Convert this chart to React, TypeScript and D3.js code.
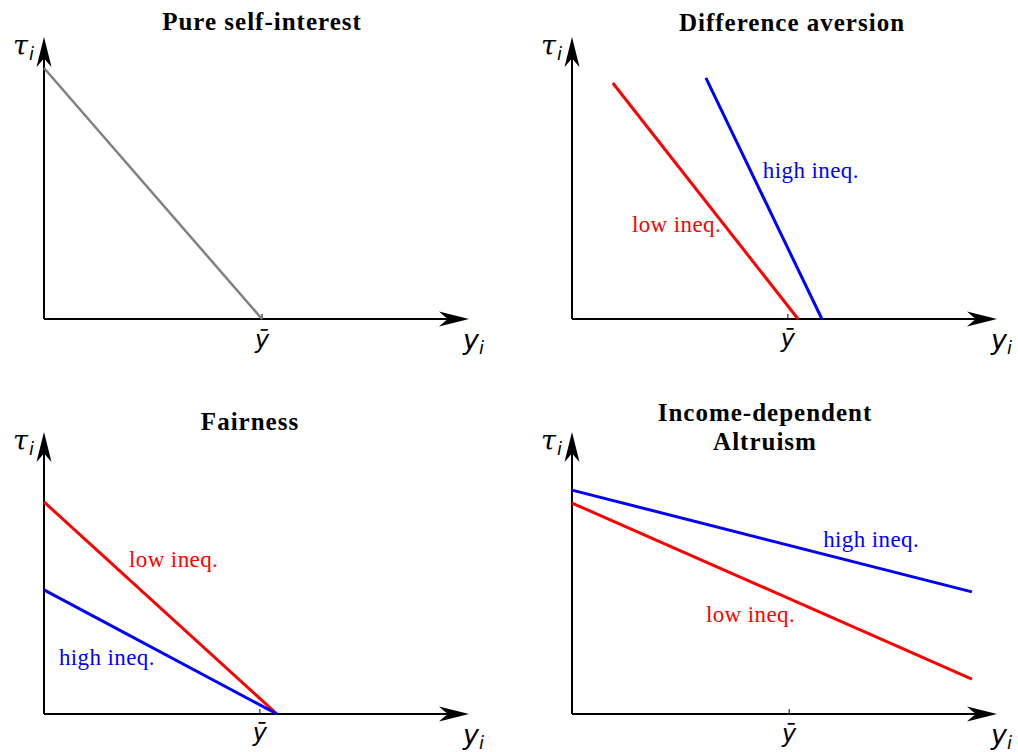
import React from 'react';
import * as d3 from 'd3';

// Panel titles (one entry per line)
const panelTitles: string[][] = [
  ['Pure self-interest'],
  ['Difference aversion'],
  ['Fairness'],
  ['Income-dependent', 'Altruism'],
];

// Position of mean income ȳ on the x axis (0..1)
const yBarValues = [0.513, 0.508, 0.508, 0.511];

// Lines as [y_i, tau_i] endpoints, in axis units (0..1)
const selfInterestLines: ([number, number][] | null)[] = [
  [[0, 0.89], [0.513, 0]],
  null,
  null,
  null,
];
const lowIneqLines: ([number, number][] | null)[] = [
  null,
  [[0.096, 0.837], [0.532, 0]],
  [[0, 0.752], [0.548, 0]],
  [[0, 0.748], [0.941, 0.124]],
];
const highIneqLines: ([number, number][] | null)[] = [
  null,
  [[0.315, 0.855], [0.588, 0]],
  [[0, 0.44], [0.548, 0]],
  [[0, 0.794], [0.941, 0.433]],
];

// Label anchors for the series, in axis units
const lowIneqLabelAt: ([number, number] | null)[] = [null, [0.141, 0.309], [0.2, 0.521], [0.315, 0.326]];
const highIneqLabelAt: ([number, number] | null)[] = [null, [0.449, 0.5], [0.035, 0.174], [0.591, 0.592]];

// layout
const W = 1018;
const H = 752;
const origins: [number, number][] = [[44, 319], [572, 319], [44, 714], [572, 714]];
const titlePos: [number, number][] = [[262, 30], [792, 31], [250, 430], [765, 421]];
const yBarDy = [29, 28, 27, 28];
const axisW = 425;
const axisH = 282;

const serif = '"Liberation Serif", "DejaVu Serif", serif';
const sans = '"DejaVu Sans", sans-serif';

const arrowPath = 'M0,0 L-30,-7.5 Q-24,-2 -21,0 Q-24,2 -30,7.5 Z';

const Panel: React.FC<{ i: number }> = ({ i }) => {
  const [ox, oy] = origins[i];
  const x = d3.scaleLinear().domain([0, 1]).range([ox, ox + axisW]);
  const y = d3.scaleLinear().domain([0, 1]).range([oy, oy - axisH]);
  const line = d3.line<[number, number]>().x(d => x(d[0])).y(d => y(d[1]));

  const series: { pts: [number, number][] | null; color: string; w: number }[] = [
    { pts: selfInterestLines[i], color: '#808080', w: 2.5 },
    { pts: lowIneqLines[i], color: '#ff0000', w: 3 },
    { pts: highIneqLines[i], color: '#0000ff', w: 3 },
  ];

  const tipX = x(1);
  const tipY = y(1);
  const yb = x(yBarValues[i]);

  return (
    <g>
      {/* title */}
      {panelTitles[i].map((t, k) => (
        <text key={k} x={titlePos[i][0]} y={titlePos[i][1] + k * 29} textAnchor="middle"
          fontFamily={serif} fontWeight="bold" fontSize={25} letterSpacing={1} fill="#000">{t}</text>
      ))}

      {/* axes */}
      <line x1={ox} y1={oy} x2={tipX - 21} y2={oy} stroke="#000" strokeWidth={2} />
      <line x1={ox} y1={oy} x2={ox} y2={tipY + 21} stroke="#000" strokeWidth={2} />
      <path d={arrowPath} transform={`translate(${tipX},${oy})`} fill="#000" />
      <path d={arrowPath} transform={`translate(${ox},${tipY}) rotate(-90)`} fill="#000" />

      {/* ȳ tick */}
      <line x1={yb} x2={yb} y1={oy} y2={oy - 5} stroke="#000" strokeWidth={1} />
      <text x={yb} y={oy + yBarDy[i]} textAnchor="middle" fontFamily={sans} fontStyle="italic" fontSize={24}>ȳ</text>

      {/* axis labels */}
      <text x={tipX - 6} y={oy + 30} fontFamily={sans} fontStyle="italic" fontSize={27}>
        y<tspan fontSize={18} dy={5}>i</tspan>
      </text>
      <text x={ox - 31} y={tipY + 18} fontFamily='"DejaVu Serif", serif' fontStyle="italic" fontSize={27}>
        τ<tspan fontFamily={sans} fontSize={18} dx={1} dy={5}>i</tspan>
      </text>

      {/* series */}
      {series.map((s, k) => s.pts ? (
        <path key={k} d={line(s.pts) || ''} fill="none" stroke={s.color} strokeWidth={s.w} />
      ) : null)}

      {/* labels */}
      {lowIneqLabelAt[i] && (
        <text x={x(lowIneqLabelAt[i]![0])} y={y(lowIneqLabelAt[i]![1])} fontFamily={serif}
          fontSize={23} letterSpacing={0.4} fill="#ff0000">low ineq.</text>
      )}
      {highIneqLabelAt[i] && (
        <text x={x(highIneqLabelAt[i]![0])} y={y(highIneqLabelAt[i]![1])} fontFamily={serif}
          fontSize={23} letterSpacing={0.4} fill="#0000ff">high ineq.</text>
      )}
    </g>
  );
};

export default function App() {
  return (
    <svg width={W} height={H} style={{ position: 'absolute', left: 0, top: 0, background: '#fff' }}>
      <rect width={W} height={H} fill="#fff" />
      {[0, 1, 2, 3].map(i => <Panel key={i} i={i} />)}
    </svg>
  );
}
